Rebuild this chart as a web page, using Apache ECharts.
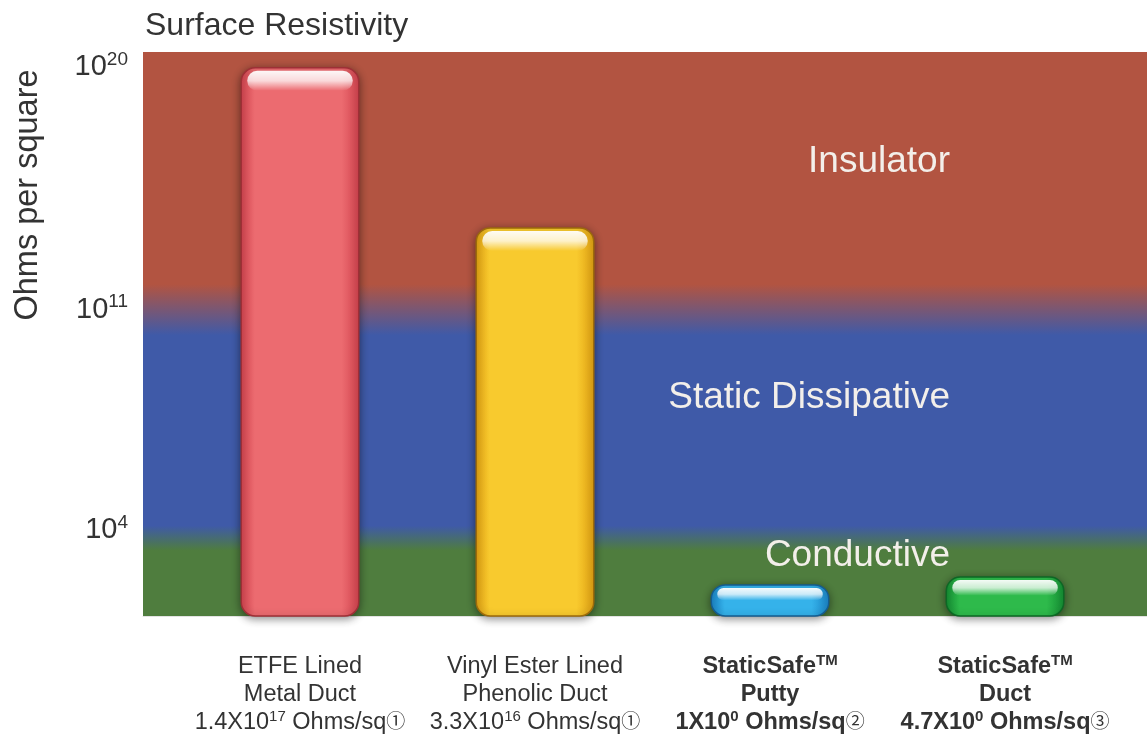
<!DOCTYPE html>
<html>
<head>
<meta charset="utf-8">
<title>Surface Resistivity</title>
<script src="https://cdn.jsdelivr.net/npm/echarts@6/dist/echarts.min.js"></script>
<style>
html, body { margin: 0; padding: 0; background: #fff; }
#main { width: 1147px; height: 737px; }
</style>
</head>
<body>
<div id="main"></div>
<script>
// products (x axis, three label lines each)
var productLine1 = ['ETFE Lined', 'Vinyl Ester Lined', 'StaticSafe', 'StaticSafe'];
var productLine2 = ['Metal Duct', 'Phenolic Duct', 'Putty', 'Duct'];
var mantissa = ['1.4', '3.3', '1', '4.7'];
var exponent = ['17', '16', '0', '0'];
var noteMark = ['①', '①', '②', '③'];
var trademark = [false, false, true, true];

// bar tops on the picture's schematic height scale (0 = bottom, 100 = top)
var barLevel = [97.2, 68.8, 5.5, 6.9];

// y tick labels: level and power of ten
var tickLevel = [97.3, 54.3, 15.2];
var tickExp = ['20', '11', '4'];

// background bands and the levels where one fades into the next
var bandNames = ['Insulator', 'Static Dissipative', 'Conductive'];
var bandEdges = [54.3, 13.8];

var bandColors = ['#B25441', '#3F5AA8', '#4F7D3E'];
var barPalette = [
  { edge: '#D2434E', mid: '#EC6B70', rim: '#9E2F36' },
  { edge: '#E0A012', mid: '#F8CA2E', rim: '#9C6A0A' },
  { edge: '#1A84C6', mid: '#35B2EA', rim: '#145C90' },
  { edge: '#148E33', mid: '#2EBA4B', rim: '#0C6824' }
];

var FONT = '"Liberation Sans", Arial, "Noto Sans CJK SC", sans-serif';

function catLabel(i) {
  var w = trademark[i] ? 'b' : 'n';
  var s = trademark[i] ? 'bs' : 's';
  var l1 = '{' + w + '|' + productLine1[i] + '}' + (trademark[i] ? '{' + s + '|TM}' : '');
  var l2 = '{' + w + '|' + productLine2[i] + '}';
  var l3 = '{' + w + '|' + mantissa[i] + 'X10}{' + s + '|' + exponent[i] + '}{' + w + '| Ohms/sq}{c|' + noteMark[i] + '}';
  return l1 + '\n' + l2 + '\n' + l3;
}

function tickLabel(v) {
  var k = 0;
  for (var i = 1; i < tickLevel.length; i++) {
    if (Math.abs(tickLevel[i] - v) < Math.abs(tickLevel[k] - v)) k = i;
  }
  return '{n|10}{s|' + tickExp[k] + '}';
}

// gradient stops for the band background (top of grid = offset 0)
function bandStops() {
  var a = 1 - bandEdges[0] / 100, b = 1 - bandEdges[1] / 100;
  return [
    { offset: 0, color: bandColors[0] },
    { offset: a - 0.045, color: bandColors[0] },
    { offset: a + 0.045, color: bandColors[1] },
    { offset: b - 0.022, color: bandColors[1] },
    { offset: b + 0.022, color: bandColors[2] },
    { offset: 1, color: bandColors[2] }
  ];
}

function renderBar(params, api) {
  var i = params.dataIndex;
  var top = api.coord([api.value(0), api.value(1)]);
  var base = api.coord([api.value(0), 0]);
  var w = api.size([0.5, 0])[0];
  var h = base[1] - top[1];
  var x = top[0] - w / 2;
  var r = Math.min(14, h / 2);
  var c = barPalette[i];
  return {
    type: 'group',
    children: [
      {
        type: 'rect',
        shape: { x: x, y: top[1], width: w, height: h, r: r },
        style: {
          fill: new echarts.graphic.LinearGradient(0, 0, 1, 0, [
            { offset: 0, color: c.edge },
            { offset: 0.12, color: c.mid },
            { offset: 0.85, color: c.mid },
            { offset: 1, color: c.edge }
          ]),
          stroke: c.rim,
          lineWidth: 1.5,
          shadowBlur: 8,
          shadowColor: 'rgba(0,0,0,0.45)',
          shadowOffsetY: 2
        }
      },
      {
        type: 'rect',
        shape: { x: x + 6, y: top[1] + 3, width: w - 12, height: Math.min(20, h * 0.4), r: Math.min(10, h * 0.2) },
        style: {
          fill: new echarts.graphic.LinearGradient(0, 0, 0, 1, [
            { offset: 0, color: 'rgba(255,255,255,0.95)' },
            { offset: 0.5, color: 'rgba(255,255,255,0.75)' },
            { offset: 1, color: 'rgba(255,255,255,0)' }
          ])
        }
      }
    ]
  };
}

var chart = echarts.init(document.getElementById('main'));

var option = {
  backgroundColor: '#fff',
  animation: false,
  title: {
    text: 'Surface Resistivity',
    left: 140,
    top: 5,
    textStyle: { fontFamily: FONT, fontSize: 32, fontWeight: 'normal', color: '#333' }
  },
  grid: {
    left: 143, right: 0, top: 52, bottom: 121,
    show: true,
    borderWidth: 0,
    backgroundColor: new echarts.graphic.LinearGradient(0, 0, 0, 1, bandStops()),
    outerBoundsMode: 'none'
  },
  xAxis: {
    type: 'value',
    min: -0.668,
    max: 3.604,
    offset: 12,
    splitLine: { show: false },
    axisTick: { show: false },
    axisLine: { show: true, lineStyle: { color: '#e3e3e3', width: 1 } },
    axisLabel: {
      customValues: [0, 1, 2, 3],
      margin: 25,
      formatter: function (v) { return catLabel(Math.round(v)); },
      rich: {
        n: { fontFamily: FONT, fontSize: 23.5, color: '#333', lineHeight: 28 },
        b: { fontFamily: FONT, fontSize: 23.5, color: '#333', fontWeight: 'bold', lineHeight: 28 },
        s: { fontFamily: FONT, fontSize: 15, color: '#333', lineHeight: 14, verticalAlign: 'top' },
        bs: { fontFamily: FONT, fontSize: 15, color: '#333', fontWeight: 'bold', lineHeight: 14, verticalAlign: 'top' },
        c: { fontFamily: FONT, fontSize: 19, color: '#333', lineHeight: 28 }
      }
    }
  },
  yAxis: {
    type: 'value',
    min: 0,
    max: 100,
    splitLine: { show: false },
    axisTick: { show: false },
    axisLine: { show: false },
    axisLabel: {
      customValues: tickLevel,
      margin: 15,
      formatter: tickLabel,
      rich: {
        n: { fontFamily: FONT, fontSize: 29, color: '#333', lineHeight: 34 },
        s: { fontFamily: FONT, fontSize: 19, color: '#333', lineHeight: 18, verticalAlign: 'top' }
      }
    }
  },
  graphic: [
    {
      type: 'text',
      x: 28, y: 195,
      rotation: Math.PI / 2,
      style: { text: 'Ohms per square', font: '32.5px ' + FONT, fill: '#333', align: 'center', verticalAlign: 'middle' }
    },
    {
      type: 'text', x: 950, y: 162,
      style: { text: bandNames[0], font: '37px ' + FONT, fill: '#F3EFEA', align: 'right', verticalAlign: 'middle' }
    },
    {
      type: 'text', x: 950, y: 398,
      style: { text: bandNames[1], font: '37px ' + FONT, fill: '#F3EFEA', align: 'right', verticalAlign: 'middle' }
    },
    {
      type: 'text', x: 950, y: 556,
      style: { text: bandNames[2], font: '37px ' + FONT, fill: '#F3EFEA', align: 'right', verticalAlign: 'middle' }
    }
  ],
  series: [
    {
      type: 'custom',
      clip: false,
      renderItem: renderBar,
      data: barLevel.map(function (v, i) { return [i, v]; })
    }
  ]
};

chart.setOption(option);
</script>
</body>
</html>
